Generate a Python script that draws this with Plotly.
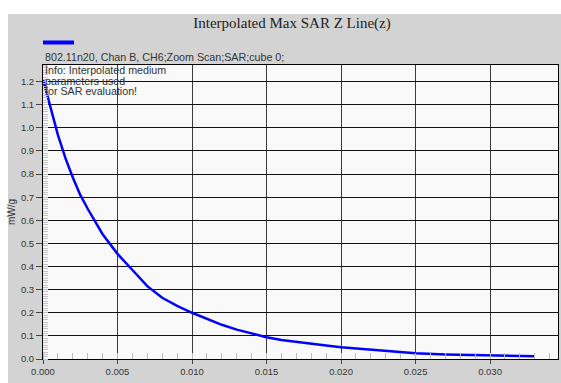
import plotly.graph_objects as go

# Interpolated max SAR along the z line
z_m = [0.000, 0.0005, 0.001, 0.0015, 0.002, 0.0025, 0.003, 0.004, 0.005, 0.006,
       0.007, 0.008, 0.009, 0.010, 0.011, 0.012, 0.013, 0.014, 0.015, 0.016,
       0.017, 0.018, 0.019, 0.020, 0.022, 0.025, 0.027, 0.028, 0.030, 0.031, 0.033]
sar_mw_g = [1.21, 1.09, 0.97, 0.87, 0.785, 0.71, 0.65, 0.54, 0.455, 0.385,
            0.315, 0.265, 0.23, 0.20, 0.173, 0.148, 0.127, 0.11, 0.094, 0.082,
            0.073, 0.065, 0.058, 0.051, 0.040, 0.025, 0.020, 0.019, 0.016, 0.013, 0.012]

x_ticks = [0.000, 0.005, 0.010, 0.015, 0.020, 0.025, 0.030]
y_ticks = [0.0, 0.1, 0.2, 0.3, 0.4, 0.5, 0.6, 0.7, 0.8, 0.9, 1.0, 1.1, 1.2]

title_text = "Interpolated Max SAR Z Line(z)"
series_name = "802.11n20, Chan B, CH6;Zoom Scan;SAR;cube 0;"
info_lines = ["Info: Interpolated medium", "parameters used", "for SAR evaluation!"]

W, H = 561, 383
L, R, T, B = 43, 3, 65, 24
pw, ph = W - L - R, H - T - B


def px(xp):
    return (xp - L) / pw


def py(yp):
    return (H - B - yp) / ph


fig = go.Figure()
fig.add_trace(go.Scatter(
    x=z_m, y=sar_mw_g, mode="lines", name=series_name,
    line=dict(color="#0000ff", width=2.5), showlegend=False,
))

sans = "Liberation Sans, Arial, sans-serif"
grey_txt = "#333333"

shapes = [
    # white strips outside the grey panel
    dict(type="rect", xref="paper", yref="paper", x0=px(-5), x1=px(W + 5),
         y0=py(14), y1=py(-5), fillcolor="white", line=dict(width=0), layer="below"),
    dict(type="rect", xref="paper", yref="paper", x0=px(-5), x1=px(8),
         y0=py(H + 5), y1=py(-5), fillcolor="white", line=dict(width=0), layer="below"),
    # legend swatch
    dict(type="line", xref="paper", yref="paper", x0=px(43), x1=px(74),
         y0=py(42.5), y1=py(42.5), line=dict(color="#0000ff", width=4)),
]

annotations = [
    dict(text=series_name, xref="paper", yref="paper", x=px(43), y=py(57),
         xanchor="left", yanchor="middle", showarrow=False,
         font=dict(family=sans, size=10.7, color=grey_txt)),
]
for i, line in enumerate(info_lines):
    annotations.append(dict(
        text=line, xref="paper", yref="paper", x=px(43), y=py(70.5 + 10.3 * i),
        xanchor="left", yanchor="middle", showarrow=False,
        font=dict(family=sans, size=10.7, color=grey_txt)))

fig.update_layout(
    width=W, height=H,
    margin=dict(l=L, r=R, t=T, b=B),
    paper_bgcolor="#d3d3d3",
    plot_bgcolor="#f9f9f9",
    title=dict(text=title_text, x=292 / W, xanchor="center", xref="container",
               y=1 - 23 / H, yanchor="middle", yref="container",
               font=dict(family="Liberation Serif, Times New Roman, serif", size=15,
                         color="#222222")),
    shapes=shapes,
    annotations=annotations,
    xaxis=dict(
        range=[0, 0.03456], tickvals=x_ticks, tickformat=".3f",
        showgrid=True, gridcolor="#3a3a3a", gridwidth=1.3,
        ticks="outside", ticklen=4, tickcolor="#444444",
        tickfont=dict(family=sans, size=9.5, color=grey_txt),
        showline=True, linecolor="#000000", linewidth=1, mirror=True,
        zeroline=False,
        minor=dict(dtick=0.001, ticks="inside", ticklen=6, tickcolor="#bbbbbb",
                   showgrid=False),
    ),
    yaxis=dict(
        range=[0, 1.272], tickvals=y_ticks, tickformat=".1f",
        showgrid=True, gridcolor="#111111", gridwidth=1,
        ticks="outside", ticklen=6, tickcolor="#444444",
        tickfont=dict(family=sans, size=9.5, color=grey_txt),
        showline=True, linecolor="#000000", linewidth=1, mirror=True,
        zeroline=False,
        title=dict(text="mW/g", standoff=3,
                   font=dict(family=sans, size=10, color=grey_txt)),
        minor=dict(dtick=0.01, ticks="inside", ticklen=5, tickcolor="#c4c4c4",
                   showgrid=False),
    ),
)

fig.write_html("out.html")
